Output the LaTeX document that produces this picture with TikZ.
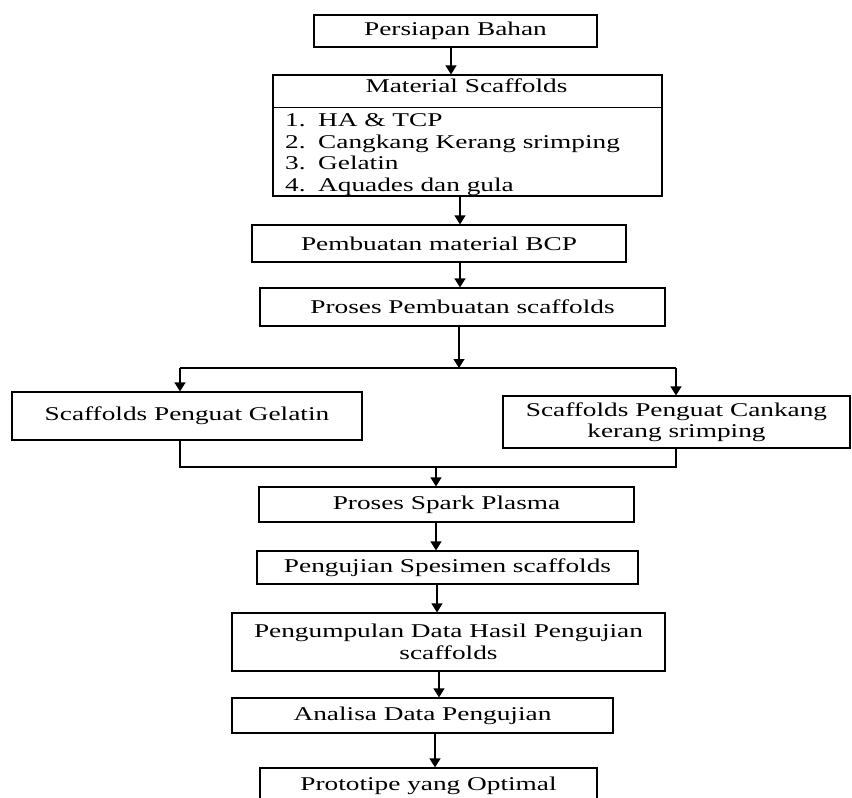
\documentclass[tikz,border=0pt]{standalone}
\usepackage{fontspec}
\setmainfont[FakeStretch=1.4]{Liberation Serif}
\usetikzlibrary{arrows.meta}

\begin{document}
\begin{tikzpicture}[x=1pt,y=-1pt,
  box/.style={draw,line width=1.2pt,inner sep=0pt,align=center},
  arr/.style={-{Triangle[width=11pt,length=9pt]},line width=1.2pt},
  garis/.style={line width=1.2pt},
  font=\fontsize{19.5}{21.5}\selectfont]
\useasboundingbox (0,0) rectangle (852,798);

% persiapan dan material
\node[box,minimum width=283pt,minimum height=32pt] (bahan) at (455.5,31) {Persiapan Bahan};
\node[box,minimum width=389pt,minimum height=121pt] (mat) at (467.5,135.5) {};
\draw[garis] ([yshift=-33pt]mat.north west) -- ([yshift=-33pt]mat.north east);
\node[anchor=base] (matjudul) at (466.5,92) {Material Scaffolds};
\foreach \n/\isi/\y in {1/HA \& TCP/126, 2/Cangkang Kerang srimping/148,
                        3/Gelatin/169, 4/Aquades dan gula/191}
  \node[anchor=base west,inner sep=0pt] (item\n) at (285,\y) {\makebox[33pt][l]{\n.}\isi};

\node[box,minimum width=374pt,minimum height=37pt] (bcp) at (439,243.5) {Pembuatan material BCP};
\node[box,minimum width=405pt,minimum height=38pt] (proses) at (462.5,307) {Proses Pembuatan scaffolds};

% dua cabang
\node[box,minimum width=350pt,minimum height=48pt] (gelatin) at (187,416) {Scaffolds Penguat Gelatin};
\node[box,minimum width=347pt,minimum height=52pt] (kerang) at (676.5,422) {Scaffolds Penguat Cankang\\kerang srimping};

\coordinate (bagi) at (459,368);
\coordinate (bagiki) at (180,368);
\coordinate (bagika) at (676,368);
\coordinate (gabki) at (180,467);
\coordinate (gabka) at (676,467);
\coordinate (gab) at (436,467);

% tahap akhir
\node[box,minimum width=375pt,minimum height=35pt] (spark) at (446.5,504.5) {Proses Spark Plasma};
\node[box,minimum width=381pt,minimum height=33pt] (uji) at (447.5,567.5) {Pengujian Spesimen scaffolds};
\node[box,minimum width=433pt,minimum height=58pt] (data) at (448.5,642) {Pengumpulan Data Hasil Pengujian\\scaffolds};
\node[box,minimum width=381pt,minimum height=35pt] (analisa) at (422.5,715.5) {Analisa Data Pengujian};
\node[box,minimum width=337pt,minimum height=35pt] (proto) at (428.5,785.5) {Prototipe yang Optimal};

% panah
\draw[arr] ([xshift=-4.5pt]bahan.south) -- ([xshift=-16.5pt]mat.north);
\draw[arr] ([xshift=-7.5pt]mat.south) -- ([xshift=21pt]bcp.north);
\draw[arr] ([xshift=21pt]bcp.south) -- ([xshift=-2.5pt]proses.north);
\draw[arr] (proses.south -| bagi) -- (bagi);
\draw[garis] (bagiki) -- (bagika);
\draw[arr] (bagiki) -- (bagiki |- gelatin.north);
\draw[arr] (bagika) -- (bagika |- kerang.north);
\draw[garis] (gelatin.south -| gabki) -- (gabki) -- (gabka) -- (kerang.south -| gabka);
\draw[arr] (gab) -- (gab |- spark.north);
\draw[arr] ([xshift=-10.5pt]spark.south) -- ([xshift=-11.5pt]uji.north);
\draw[arr] ([xshift=-10.5pt]uji.south) -- ([xshift=-11.5pt]data.north);
\draw[arr] ([xshift=-9.5pt]data.south) -- ([xshift=16.5pt]analisa.north);
\draw[arr] ([xshift=12.5pt]analisa.south) -- ([xshift=6.5pt]proto.north);
\end{tikzpicture}
\end{document}
